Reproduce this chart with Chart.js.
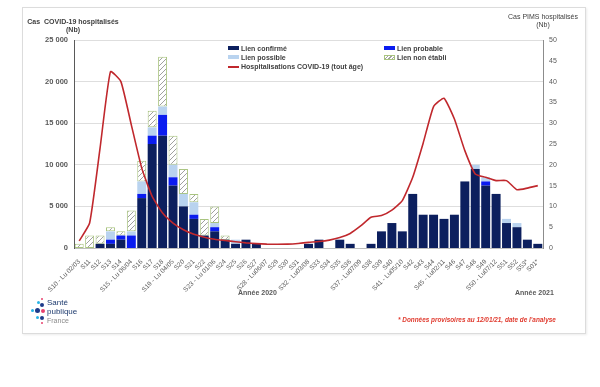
<!DOCTYPE html>
<html>
<head>
<meta charset="utf-8">
<script src="https://cdn.jsdelivr.net/npm/chart.js@4.4.1/dist/chart.umd.min.js"></script>
<style>
  html,body{margin:0;padding:0;background:#fff;}
  #wrap{position:relative;width:600px;height:387px;font-family:"Liberation Sans",Arial,sans-serif;}
  #frame{position:absolute;left:22px;top:7px;width:562px;height:325px;border:1px solid #dcdcdc;box-shadow:1px 1px 2px rgba(0,0,0,0.08);}
  canvas{position:absolute;left:0;top:0;}
  .t{position:absolute;white-space:nowrap;color:#404040;font-weight:bold;font-size:7px;line-height:8px;}
  .sw{position:absolute;width:11px;height:4px;}
  .dot{position:absolute;border-radius:50%;}
</style>
</head>
<body>
<div id="wrap">
  <div id="frame"></div>
  <canvas id="c" width="600" height="387"></canvas>

  <div class="t" style="left:27px;top:18px;width:92px;text-align:center;">Cas&nbsp; COVID-19 hospitalisés<br>(Nb)</div>
  <div class="t" style="left:503px;top:13px;width:80px;text-align:center;font-weight:normal;">Cas PIMS hospitalisés<br>(Nb)</div>

  <div id="legend"></div>

  <div class="t" style="left:238px;top:289px;color:#595959;">Année 2020</div>
  <div class="t" style="left:515px;top:289px;color:#595959;">Année 2021</div>
  <div class="t" style="left:398px;top:316px;color:#e03a2e;font-style:italic;font-size:6.4px;">* Données provisoires au 12/01/21, date de l'analyse</div>

  <div class="dot" style="left:37px;top:301px;width:3px;height:3px;background:#28b4e6;"></div>
  <div class="dot" style="left:41px;top:298px;width:2px;height:2px;background:#e8426e;"></div>
  <div class="dot" style="left:40px;top:303px;width:4px;height:4px;background:#1d3a8a;"></div>
  <div class="dot" style="left:31px;top:309px;width:3px;height:3px;background:#28b4e6;"></div>
  <div class="dot" style="left:35px;top:308px;width:5px;height:5px;background:#1d3a8a;"></div>
  <div class="dot" style="left:41px;top:309px;width:4px;height:4px;background:#e8426e;"></div>
  <div class="dot" style="left:36px;top:316px;width:3px;height:3px;background:#28b4e6;"></div>
  <div class="dot" style="left:40px;top:316px;width:4px;height:4px;background:#1d3a8a;"></div>
  <div class="dot" style="left:41px;top:322px;width:2px;height:2px;background:#e8426e;"></div>
  <div class="t" style="left:47px;top:298px;font-size:8px;line-height:9px;font-weight:normal;color:#1d3a6e;">Santé<br>publique</div>
  <div class="t" style="left:47px;top:317px;font-size:7px;font-weight:normal;color:#8a8a8a;">France</div>
</div>
<script>
const categories = ["S10 - Lu 02/03","S11","S12","S13","S14","S15 - Lu 06/04","S16","S17","S18","S19 - Lu 04/05","S20","S21","S22","S23 - Lu 01/06","S24","S25","S26","S27","S28 - Lu06/07","S29","S30","S31","S32 - Lu03/08","S33","S34","S35","S36","S37 - Lu07/09","S38","S39","S40","S41 - Lu05/10","S42","S43","S44","S45 - Lu02/11","S46","S47","S48","S49","S50 - Lu07/12","S51","S52","S53*","S01*"];

const lienConfirme = [0,0,1,1,2,0,12,25,27,15,10,7,3,4,2,1,2,1,0,0,0,0,1,2,0,2,1,0,1,4,6,4,13,8,8,7,8,16,19,15,13,6,5,2,1];
const lienProbable = [0,0,0,1,1,3,1,2,5,2,0,1,0,1,0,0,0,0,0,0,0,0,0,0,0,0,0,0,0,0,0,0,0,0,0,0,0,0,0,1,0,0,0,0,0];
const lienPossible = [0,0,0,2,0,1,3,2,2,3,3,3,0,1,0,1,0,0,0,0,0,0,0,0,0,0,0,0,0,0,0,0,0,0,0,0,0,0,1,1,0,1,1,0,0];
const lienNonEtabli = [1,3,2,1,1,5,5,4,12,7,6,2,4,4,1,0,0,0,0,0,0,0,0,0,0,0,0,0,0,0,0,0,0,0,0,0,0,0,0,0,0,0,0,0,0];

const hospitalisations = [850,3000,12000,21200,20000,14800,9600,6200,4200,3000,2200,1650,1300,1050,900,750,620,530,470,450,470,550,680,780,950,1250,1750,2650,3700,3900,4550,5700,8500,12600,17000,18000,15500,11700,8900,8500,8100,8100,7000,7200,7500];

const leftTicks = [0,5000,10000,15000,20000,25000];
const rightTicks = [0,5,10,15,20,25,30,35,40,45,50];

// hatch pattern
const pc = document.createElement('canvas');
pc.width = 5; pc.height = 5;
const px = pc.getContext('2d');
px.fillStyle = '#ffffff'; px.fillRect(0,0,5,5);
px.strokeStyle = '#a0a0a0'; px.lineWidth = 1;
px.beginPath();
px.moveTo(0,5); px.lineTo(5,0);
px.moveTo(-1,1); px.lineTo(1,-1);
px.moveTo(4,6); px.lineTo(6,4);
px.stroke();
const hatch = px.createPattern(pc,'repeat');

const COL = {conf:'#0c1f5e', prob:'#0a1cf0', poss:'#b9d3ef', line:'#c0282d', hatchBorder:'#a9c47f'};

// HTML legend
const legend = document.getElementById('legend');
const items = [
  {x:228,y:45,label:'Lien confirmé',bg:COL.conf},
  {x:384,y:45,label:'Lien probable',bg:COL.prob},
  {x:228,y:54,label:'Lien possible',bg:COL.poss},
  {x:384,y:54,label:'Lien non établi',hatch:true},
  {x:228,y:63,label:'Hospitalisations COVID-19 (tout âge)',line:true}
];
items.forEach(it=>{
  const s = document.createElement('div');
  s.className='sw';
  s.style.left = it.x+'px';
  if (it.line){ s.style.top=(it.y+3)+'px'; s.style.height='1.5px'; s.style.background=COL.line; }
  else if (it.hatch){ s.style.top=(it.y+1)+'px'; s.style.boxSizing='border-box'; s.style.border='1px solid '+COL.hatchBorder;
    s.style.background='repeating-linear-gradient(135deg,#fff 0 1.5px,#a0a0a0 1.5px 2.5px)'; s.style.height='5px'; }
  else { s.style.top=(it.y+1)+'px'; s.style.background=it.bg; }
  legend.appendChild(s);
  const t = document.createElement('div');
  t.className='t'; t.style.left=(it.x+13)+'px'; t.style.top=it.y+'px'; t.textContent=it.label;
  legend.appendChild(t);
});

const fmt = v => String(v).replace(/\B(?=(\d{3})+(?!\d))/g,' ');

new Chart(document.getElementById('c'), {
  data: {
    labels: categories,
    datasets: [
      {type:'line', label:'Hospitalisations COVID-19 (tout âge)', data:hospitalisations, yAxisID:'y', borderColor:COL.line, borderWidth:1.6, pointRadius:0, tension:0.15, order:0, fill:false},
      {type:'bar', label:'Lien confirmé', data:lienConfirme, yAxisID:'y2', backgroundColor:COL.conf, order:1, stack:'p', barPercentage:0.86, categoryPercentage:1},
      {type:'bar', label:'Lien probable', data:lienProbable, yAxisID:'y2', backgroundColor:COL.prob, order:1, stack:'p', barPercentage:0.86, categoryPercentage:1},
      {type:'bar', label:'Lien possible', data:lienPossible, yAxisID:'y2', backgroundColor:COL.poss, order:1, stack:'p', barPercentage:0.86, categoryPercentage:1},
      {type:'bar', label:'Lien non établi', data:lienNonEtabli, yAxisID:'y2', backgroundColor:hatch, borderColor:COL.hatchBorder, borderWidth:1, borderSkipped:false, order:1, stack:'p', barPercentage:0.86, categoryPercentage:1}
    ]
  },
  options: {
    responsive:false,
    animation:false,
    layout:{padding:{top:40,left:0,right:0,bottom:0}},
    plugins:{legend:{display:false},tooltip:{enabled:false}},
    scales:{
      x:{
        stacked:true,
        grid:{display:false},
        border:{color:'#bfbfbf'},
        ticks:{autoSkip:false,minRotation:45,maxRotation:45,color:'#595959',font:{family:'Liberation Sans',size:6.5},padding:2},
        afterFit:s=>{s.height=139;}
      },
      y:{
        position:'left', min:0, max:25000,
        afterBuildTicks:s=>{s.ticks = leftTicks.map(v=>({value:v}));},
        ticks:{callback:v=>fmt(v),color:'#595959',font:{family:'Liberation Sans',size:7.5,weight:'bold'},padding:6},
        grid:{color:'#dedede',drawTicks:false},
        border:{color:'#595959',width:1},
        afterFit:s=>{s.width=74;}
      },
      y2:{
        position:'right', min:0, max:50, stacked:true,
        afterBuildTicks:s=>{s.ticks = rightTicks.map(v=>({value:v}));},
        ticks:{color:'#595959',font:{family:'Liberation Sans',size:7},padding:6},
        grid:{display:false,drawTicks:false},
        border:{color:'#8c8c8c',width:1},
        afterFit:s=>{s.width=57;}
      }
    }
  }
});
</script>
</body>
</html>
